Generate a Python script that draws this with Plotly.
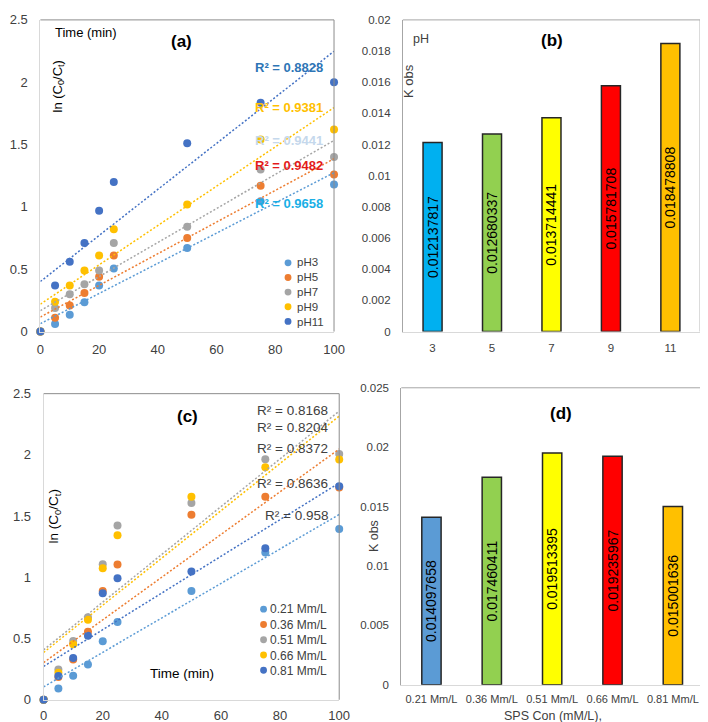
import numpy as np
import plotly.graph_objects as go

# ---------------- data ----------------
time_min = [0, 5, 10, 15, 20, 25, 50, 75, 100]

ph_names = ["pH3", "pH5", "pH7", "pH9", "pH11"]
ph3 = [0, 0.06, 0.136, 0.235, 0.37, 0.507, 0.67, 1.045, 1.18]
ph5 = [0, 0.11, 0.21, 0.31, 0.44, 0.61, 0.75, 1.17, 1.26]
ph7 = [0, 0.19, 0.30, 0.38, 0.49, 0.71, 0.84, 1.30, 1.40]
ph9 = [0, 0.24, 0.37, 0.49, 0.61, 0.82, 1.02, 1.54, 1.62]
ph11 = [0, 0.37, 0.56, 0.71, 0.97, 1.20, 1.51, 1.835, 2.00]
ph_r2 = ["0.9658", "0.9482", "0.9441", "0.9381", "0.8828"]

sps_names = ["0.21 Mm/L", "0.36 Mm/L", "0.51 Mm/L", "0.66 Mm/L", "0.81 Mm/L"]
sps021 = [0, 0.093, 0.197, 0.288, 0.477, 0.635, 0.888, 1.203, 1.395]
sps036 = [0, 0.187, 0.328, 0.555, 0.888, 1.104, 1.512, 1.659, 1.733]
sps051 = [0, 0.248, 0.48, 0.675, 1.107, 1.424, 1.608, 1.965, 2.008]
sps066 = [0, 0.22, 0.453, 0.653, 1.075, 1.344, 1.659, 1.899, 1.963]
sps081 = [0, 0.195, 0.341, 0.523, 0.869, 0.992, 1.048, 1.237, 1.744]
sps_r2 = ["0.958", "0.8372", "0.8168", "0.8204", "0.8636"]

ph_cats = ["3", "5", "7", "9", "11"]
k_ph = [0.012137817, 0.012680337, 0.013714441, 0.015781708, 0.018478808]

sps_cats = ["0.21 Mm/L", "0.36 Mm/L", "0.51 Mm/L", "0.66 Mm/L", "0.81 Mm/L"]
k_sps = [0.014097658, 0.017460411, 0.019513395, 0.019235967, 0.015001636]

time_ticks = [0, 20, 40, 60, 80, 100]
ln_ticks = [0, 0.5, 1, 1.5, 2, 2.5]
ln_ticktext = ["0", "0.5", "1", "1.5", "2", "2.5"]
kph_ticks = [0, 0.002, 0.004, 0.006, 0.008, 0.01, 0.012, 0.014, 0.016, 0.018, 0.02]
kph_ticktext = ["0", "0.002", "0.004", "0.006", "0.008", "0.01", "0.012", "0.014", "0.016", "0.018", "0.02"]
ksps_ticks = [0, 0.005, 0.01, 0.015, 0.02, 0.025]
ksps_ticktext = ["0", "0.005", "0.01", "0.015", "0.02", "0.025"]

# ---------------- styles ----------------
W, H = 708, 722
FONT = "Liberation Sans, Arial, sans-serif"
series_colors = ["#5B9BD5", "#ED7D31", "#A5A5A5", "#FFC000", "#4472C4"]
ph_label_colors = ["#1AAFE6", "#E31A1A", "#C5D8EC", "#FFC000", "#2E75B6"]
bar_colors_b = ["#00B0F0", "#92D050", "#FFFF00", "#FF0000", "#FFC000"]
bar_colors_d = ["#5B9BD5", "#92D050", "#FFFF00", "#FF0000", "#FFC000"]
TREND_DASH = "2px,2px"


def px(x):
    return x / W


def py(y):
    return 1 - y / H


fig = go.Figure()

# panel a
ph_series = [ph3, ph5, ph7, ph9, ph11]
for name, ys, c in zip(ph_names, ph_series, series_colors):
    fig.add_trace(go.Scatter(x=time_min, y=ys, mode="markers", name=name,
                             marker=dict(size=8, color=c), cliponaxis=False,
                             xaxis="x", yaxis="y"))
for ys, c in zip(ph_series, series_colors):
    m, b = np.polyfit(time_min, ys, 1)
    xs = [time_min[0], time_min[-1]]
    fig.add_trace(go.Scatter(x=xs, y=[m * v + b for v in xs], mode="lines",
                             line=dict(color=c, width=1.5, dash=TREND_DASH),
                             xaxis="x", yaxis="y", hoverinfo="skip"))

# panel c
sps_series = [sps021, sps036, sps051, sps066, sps081]
for name, ys, c in zip(sps_names, sps_series, series_colors):
    fig.add_trace(go.Scatter(x=time_min, y=ys, mode="markers", name=name,
                             marker=dict(size=8, color=c), cliponaxis=False,
                             xaxis="x3", yaxis="y3"))
for ys, c in zip(sps_series, series_colors):
    m, b = np.polyfit(time_min, ys, 1)
    xs = [time_min[0], time_min[-1]]
    fig.add_trace(go.Scatter(x=xs, y=[m * v + b for v in xs], mode="lines",
                             line=dict(color=c, width=1.5, dash=TREND_DASH),
                             xaxis="x3", yaxis="y3", hoverinfo="skip"))

# panel b
fig.add_trace(go.Bar(x=ph_cats, y=k_ph, text=[str(v) for v in k_ph],
                     textposition="inside", insidetextanchor="middle", textangle=-90,
                     constraintext="none",
                     textfont=dict(size=14, color="#000000", family=FONT),
                     marker=dict(color=bar_colors_b, line=dict(color="#262626", width=1.5)),
                     xaxis="x2", yaxis="y2"))
# panel d
fig.add_trace(go.Bar(x=sps_cats, y=k_sps, text=[str(v) for v in k_sps],
                     textposition="inside", insidetextanchor="middle", textangle=-90,
                     constraintext="none",
                     textfont=dict(size=14, color="#000000", family=FONT),
                     marker=dict(color=bar_colors_d, line=dict(color="#262626", width=1.5)),
                     xaxis="x4", yaxis="y4"))

tick_col = "#404040"
light = "#D9D9D9"


def ax(dom, anchor, **kw):
    d = dict(domain=dom, anchor=anchor, showgrid=False, zeroline=False, showline=True,
             linecolor=light, linewidth=1, ticks="", fixedrange=True)
    d.update(kw)
    return d


fig.update_layout(
    width=W, height=H, margin=dict(l=0, r=0, t=0, b=0),
    paper_bgcolor="white", plot_bgcolor="white", showlegend=False,
    font=dict(family=FONT, color="#000000"),
    bargap=0.68,
    xaxis=ax([px(29), px(329)], "y", range=[0, 100], tickvals=time_ticks,
             tickfont=dict(size=13, color=tick_col), ticklabelstandoff=6),
    yaxis=ax([py(323.3), py(5)], "x", range=[0, 2.5], tickvals=ln_ticks, ticktext=ln_ticktext,
             tickfont=dict(size=13, color=tick_col), ticklabelstandoff=9),
    xaxis3=ax([px(32.3), px(334.3)], "y3", range=[0, 100], tickvals=time_ticks,
              tickfont=dict(size=13, color=tick_col), ticklabelstandoff=4),
    yaxis3=ax([py(699.3), py(386.7)], "x3", range=[0, 2.5], tickvals=ln_ticks, ticktext=ln_ticktext,
              tickfont=dict(size=13, color=tick_col), ticklabelstandoff=9),
    xaxis2=ax([px(399.3), px(703)], "y2", type="category",
              tickfont=dict(size=11.5, color=tick_col), ticklabelstandoff=6),
    yaxis2=ax([py(323.3), py(5)], "x2", range=[0, 0.02], tickvals=kph_ticks, ticktext=kph_ticktext,
              tickfont=dict(size=11.5, color=tick_col), ticklabelstandoff=9, linecolor="#A6A6A6"),
    xaxis4=ax([px(397.7), px(706)], "y4", type="category",
              tickfont=dict(size=11, color=tick_col), ticklabelstandoff=4),
    yaxis4=ax([py(684), py(380.7)], "x4", range=[0, 0.025], tickvals=ksps_ticks, ticktext=ksps_ticktext,
              tickfont=dict(size=11.5, color=tick_col), ticklabelstandoff=9, linecolor="#A6A6A6"),
)

shapes = []


def frame(l, t, r, b, col):
    shapes.append(dict(type="line", xref="paper", yref="paper", x0=px(l), x1=px(r), y0=py(t), y1=py(t),
                       line=dict(color=col, width=1)))
    shapes.append(dict(type="line", xref="paper", yref="paper", x0=px(r), x1=px(r), y0=py(t), y1=py(b),
                       line=dict(color=col, width=1)))


frame(29, 5, 329, 323.3, "#8C8C8C")
frame(32.3, 386.7, 334.3, 699.3, "#8C8C8C")
frame(399.3, 5, 703, 323.3, "#A6A6A6")
frame(397.7, 380.7, 706, 684, "#A6A6A6")

annotations = []


def txt(x, y, s, size=13, color="#000000", bold=False, xanchor="center", angle=0, align="center"):
    annotations.append(dict(x=px(x), y=py(y), xref="paper", yref="paper",
                            text=("<b>%s</b>" % s) if bold else s,
                            showarrow=False, xanchor=xanchor, yanchor="middle", textangle=angle,
                            align=align, borderpad=0,
                            font=dict(size=size, color=color, family=FONT)))


def legend_block(names, colors, x_dot, x_text, y_center, size):
    step = size * 1.3
    n = len(names)
    txt(x_text, y_center, "<br>".join(names), size, color="#404040", xanchor="left", align="left")
    for i, c in enumerate(colors):
        yy = y_center + (i - (n - 1) / 2) * step
        shapes.append(dict(type="circle", xref="paper", yref="paper",
                           x0=px(x_dot - 3.5), x1=px(x_dot + 3.5),
                           y0=py(yy + 3.5), y1=py(yy - 3.5), fillcolor=c, line=dict(width=0)))


# panel a texts
txt(76, 18, "Time (min)", 13)
txt(47, 73, "ln (C<sub>0</sub>/C<sub>t</sub>)", 13, angle=-90)
txt(173, 27, "(a)", 17, bold=True)
r2_a_y = [192, 154, 128, 94, 54]
for r2, yy, c in zip(ph_r2, r2_a_y, ph_label_colors):
    txt(319, yy, "R² = " + r2, 13, color=c, bold=True, xanchor="right")
legend_block(ph_names, series_colors, 282, 290, 283, 11.5)

# panel c texts
txt(174, 672, "Time (min)", 13.5)
txt(43, 512, "ln (C<sub>0</sub>/C<sub>t</sub>)", 13.5, angle=-90)
txt(179, 410, "(c)", 17, bold=True)
r2_c_y = [511, 443, 404, 421, 478]
for r2, yy in zip(sps_r2, r2_c_y):
    txt(323.5, yy, "R² = " + r2, 13.5, color="#404040", xanchor="right")
legend_block(sps_names, series_colors, 257, 263, 638, 12)

# panel b texts
txt(418, 25, "pH", 12.5, color="#404040")
txt(405, 67, "K obs", 13, color="#404040", angle=-90)
txt(552, 26, "(b)", 17, bold=True)

# panel d texts
txt(370, 532, "K obs", 12.5, color="#404040", angle=-90)
txt(561, 407, "(d)", 17, bold=True)
txt(553, 716, "SPS Con (mM/L),", 12.5, color="#404040")

fig.update_layout(shapes=shapes, annotations=annotations)
fig.write_html("out.html")
